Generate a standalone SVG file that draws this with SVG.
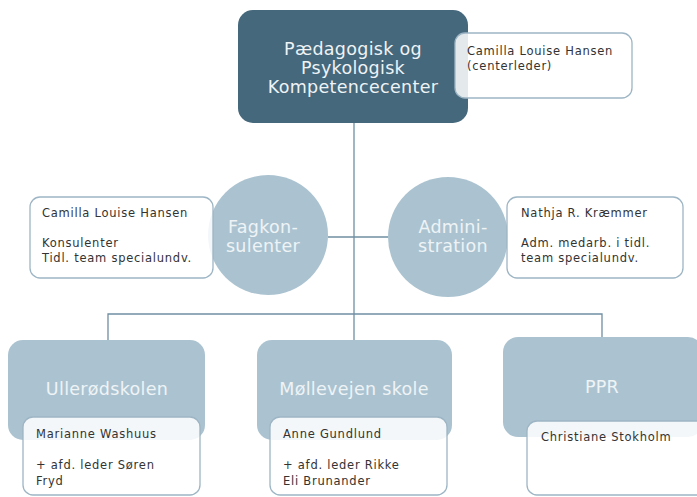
<svg xmlns="http://www.w3.org/2000/svg" width="697" height="497" viewBox="0 0 697 497">
<style>
.bg{fill:#ffffff}
.dark{fill:#45687C}
.light{fill:#ABC3D0}
.note{fill:#ffffff;fill-opacity:0.86;stroke:#9DB5C4;stroke-width:1.3}
.big{font-family:"DejaVu Sans",Verdana,sans-serif;font-size:17.5px;letter-spacing:0.3px;fill:#EEF3F6;text-anchor:middle}
.small{font-family:"DejaVu Sans",Verdana,sans-serif;font-size:11.5px;letter-spacing:0.75px;fill:#333333}
.conn{fill:none;stroke:#6F8FA2;stroke-width:1.3}
</style>
<rect class="bg" width="697" height="497"/>
<g id="connectors">
<path class="conn" d="M354 123 V313"/>
<path class="conn" d="M328 237 H388"/>
<path class="conn" d="M108 340 V314 H602 V337"/>
<path class="conn" d="M354 313 V340"/>
</g>
<g id="center">
<rect class="dark" x="238" y="10" width="230" height="113" rx="15"/>
<text class="big" x="353" y="55">Pædagogisk og</text>
<text class="big" x="353" y="74">Psykologisk</text>
<text class="big" x="353" y="93">Kompetencecenter</text>
</g>
<g id="center-note">
<rect class="note" x="455" y="33" width="177" height="65" rx="10"/>
<text class="small" x="467" y="55">Camilla Louise Hansen</text>
<text class="small" x="467" y="70">(centerleder)</text>
</g>
<g id="fagkonsulenter">
<circle class="light" cx="268" cy="235" r="60"/>
<text class="big" x="263" y="233">Fagkon-</text>
<text class="big" x="263" y="252">sulenter</text>
</g>
<g id="fagkonsulenter-note">
<rect class="note" x="30" y="197" width="183" height="81" rx="10"/>
<text class="small" x="42" y="217">Camilla Louise Hansen</text>
<text class="small" x="42" y="247">Konsulenter</text>
<text class="small" x="42" y="262">Tidl. team specialundv.</text>
</g>
<g id="administration">
<circle class="light" cx="448" cy="237" r="60"/>
<text class="big" x="453" y="233">Admini-</text>
<text class="big" x="453" y="252">stration</text>
</g>
<g id="administration-note">
<rect class="note" x="507" y="197" width="176" height="81" rx="10"/>
<text class="small" x="521" y="217">Nathja R. Kræmmer</text>
<text class="small" x="521" y="247">Adm. medarb. i tidl.</text>
<text class="small" x="521" y="262">team specialundv.</text>
</g>
<g id="ullerodskolen">
<rect class="light" x="8" y="340" width="197" height="100" rx="15"/>
<text class="big" x="107" y="395">Ullerødskolen</text>
</g>
<g id="ullerodskolen-note">
<rect class="note" x="23" y="417" width="177" height="78" rx="10"/>
<text class="small" x="36" y="438">Marianne Washuus</text>
<text class="small" x="36" y="469">+ afd. leder Søren</text>
<text class="small" x="36" y="485">Fryd</text>
</g>
<g id="mollevejen">
<rect class="light" x="257" y="340" width="195" height="100" rx="15"/>
<text class="big" x="354" y="395">Møllevejen skole</text>
</g>
<g id="mollevejen-note">
<rect class="note" x="270" y="417" width="177" height="78" rx="10"/>
<text class="small" x="283" y="438">Anne Gundlund</text>
<text class="small" x="283" y="469">+ afd. leder Rikke</text>
<text class="small" x="283" y="485">Eli Brunander</text>
</g>
<g id="ppr">
<rect class="light" x="503" y="337" width="200" height="100" rx="15"/>
<text class="big" x="602" y="393">PPR</text>
</g>
<g id="ppr-note">
<rect class="note" x="527" y="421" width="180" height="74" rx="10"/>
<text class="small" x="541" y="441">Christiane Stokholm</text>
</g>
</svg>
